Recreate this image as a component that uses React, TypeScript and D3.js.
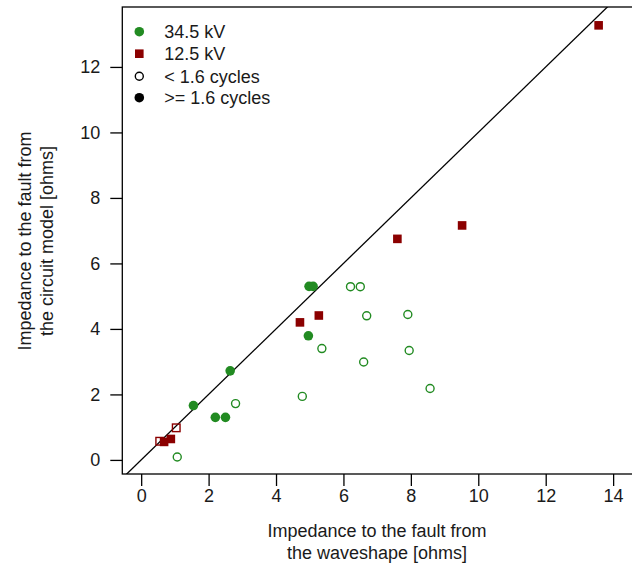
import React, { useEffect, useRef } from "react";
import * as d3 from "d3";

// 34.5 kV, fault duration >= 1.6 cycles (filled circles)
const kv34Long = [
  [1.55, 1.66], [2.2, 1.30], [2.5, 1.30], [2.64, 2.72],
  [4.96, 3.79], [4.98, 5.30], [5.1, 5.30],
];
// 34.5 kV, < 1.6 cycles (open circles)
const kv34Short = [
  [1.07, 0.09], [2.8, 1.72], [4.78, 1.94], [5.36, 3.40], [6.21, 5.29],
  [6.5, 5.29], [6.6, 2.99], [6.69, 4.40], [7.91, 4.44], [7.95, 3.34], [8.57, 2.18],
];
// 12.5 kV, >= 1.6 cycles (filled squares)
const kv12Long = [
  [0.68, 0.55], [0.88, 0.64], [4.71, 4.20], [5.27, 4.41],
  [7.6, 6.75], [9.52, 7.16], [13.57, 13.27],
];
// 12.5 kV, < 1.6 cycles (open squares)
const kv12Short = [[0.55, 0.57], [1.04, 0.98]];

const xTicks = [0, 2, 4, 6, 8, 10, 12, 14];
const yTicks = [0, 2, 4, 6, 8, 10, 12];

const legendLabels = ["34.5 kV", "12.5 kV", "< 1.6 cycles", ">= 1.6 cycles"];

const GREEN = "#228B22";
const RED = "#8B0000";

function App() {
  const width = 632;
  const height = 565;
  const svgRef = useRef(null);

  useEffect(() => {
    const svg = d3.select(svgRef.current);
    svg.selectAll("*").remove();

    const x = d3.scaleLinear().domain([-0.56, 14.56]).range([122.3, 632]);
    const y = d3.scaleLinear().domain([-0.43, 13.83]).range([474, 7]);
    const font = "'Liberation Sans', Arial, sans-serif";
    const fs = 18;

    svg.append("defs").append("clipPath").attr("id", "plot-clip")
      .append("rect")
      .attr("x", x.range()[0]).attr("y", y.range()[1])
      .attr("width", x.range()[1] - x.range()[0])
      .attr("height", y.range()[0] - y.range()[1]);

    // y = x reference line
    svg.append("line")
      .attr("clip-path", "url(#plot-clip)")
      .attr("x1", x(-1)).attr("y1", y(-1))
      .attr("x2", x(15)).attr("y2", y(15))
      .attr("stroke", "black").attr("stroke-width", 1.3);

    const g = svg.append("g").attr("clip-path", "url(#plot-clip)");

    g.selectAll(".c34s").data(kv34Short).join("circle")
      .attr("cx", d => x(d[0])).attr("cy", d => y(d[1])).attr("r", 4)
      .attr("fill", "none").attr("stroke", GREEN).attr("stroke-width", 1.4);

    g.selectAll(".c34l").data(kv34Long).join("circle")
      .attr("cx", d => x(d[0])).attr("cy", d => y(d[1])).attr("r", 4.8)
      .attr("fill", GREEN);

    const s = 8.6;
    g.selectAll(".s12l").data(kv12Long).join("rect")
      .attr("x", d => x(d[0]) - s / 2).attr("y", d => y(d[1]) - s / 2)
      .attr("width", s).attr("height", s).attr("fill", RED);

    const so = 7.6;
    g.selectAll(".s12s").data(kv12Short).join("rect")
      .attr("x", d => x(d[0]) - so / 2).attr("y", d => y(d[1]) - so / 2)
      .attr("width", so).attr("height", so)
      .attr("fill", "none").attr("stroke", RED).attr("stroke-width", 1.4);

    // box
    svg.append("rect")
      .attr("x", x.range()[0]).attr("y", y.range()[1])
      .attr("width", x.range()[1] - x.range()[0] + 2)
      .attr("height", y.range()[0] - y.range()[1])
      .attr("fill", "none").attr("stroke", "black").attr("stroke-width", 1.3);

    // axes
    const xAxis = svg.append("g").attr("transform", `translate(0,${y.range()[0]})`)
      .call(d3.axisBottom(x).tickValues(xTicks).tickSize(12).tickPadding(3).tickFormat(d3.format("d")));
    const yAxis = svg.append("g").attr("transform", `translate(${x.range()[0]},0)`)
      .call(d3.axisLeft(y).tickValues(yTicks).tickSize(12).tickPadding(10).tickFormat(d3.format("d")));
    [xAxis, yAxis].forEach(a => {
      a.select(".domain").remove();
      a.selectAll("line").attr("stroke", "black").attr("stroke-width", 1.3);
      a.selectAll("text").attr("font-family", font).attr("font-size", fs).attr("fill", "#1a1a1a");
    });

    // axis titles
    const xt = svg.append("text").attr("font-family", font).attr("font-size", fs)
      .attr("text-anchor", "middle").attr("fill", "#1a1a1a");
    xt.append("tspan").attr("x", 377).attr("y", 537).text("Impedance to the fault from");
    xt.append("tspan").attr("x", 377).attr("y", 559).text("the waveshape [ohms]");

    const yt = svg.append("text").attr("font-family", font).attr("font-size", fs)
      .attr("text-anchor", "middle").attr("fill", "#1a1a1a")
      .attr("transform", "translate(0,241) rotate(-90)");
    yt.append("tspan").attr("x", 0).attr("y", 31).text("Impedance to the fault from");
    yt.append("tspan").attr("x", 0).attr("y", 53).text("the circuit model [ohms]");

    // legend
    const lg = svg.append("g").attr("transform", "translate(139.3,31.7)");
    const row = 22;
    lg.append("circle").attr("cx", 0).attr("cy", 0).attr("r", 4.8).attr("fill", GREEN);
    lg.append("rect").attr("x", -s / 2).attr("y", row - s / 2).attr("width", s).attr("height", s).attr("fill", RED);
    lg.append("circle").attr("cx", 0).attr("cy", row * 2 + 0.6).attr("r", 4)
      .attr("fill", "none").attr("stroke", "black").attr("stroke-width", 1.4);
    lg.append("circle").attr("cx", 0).attr("cy", row * 3).attr("r", 4.8).attr("fill", "black");
    lg.selectAll(".lt").data(legendLabels).join("text")
      .attr("x", 25).attr("y", (d, i) => i * row + (i === 2 ? 0.6 : 0))
      .attr("dy", "0.35em")
      .attr("font-family", font).attr("font-size", fs).attr("fill", "#1a1a1a")
      .text(d => d);
  }, []);

  return (
    <svg ref={svgRef} width={width} height={height}
      style={{ position: "absolute", left: 0, top: 0, background: "white" }} />
  );
}

export default App;
